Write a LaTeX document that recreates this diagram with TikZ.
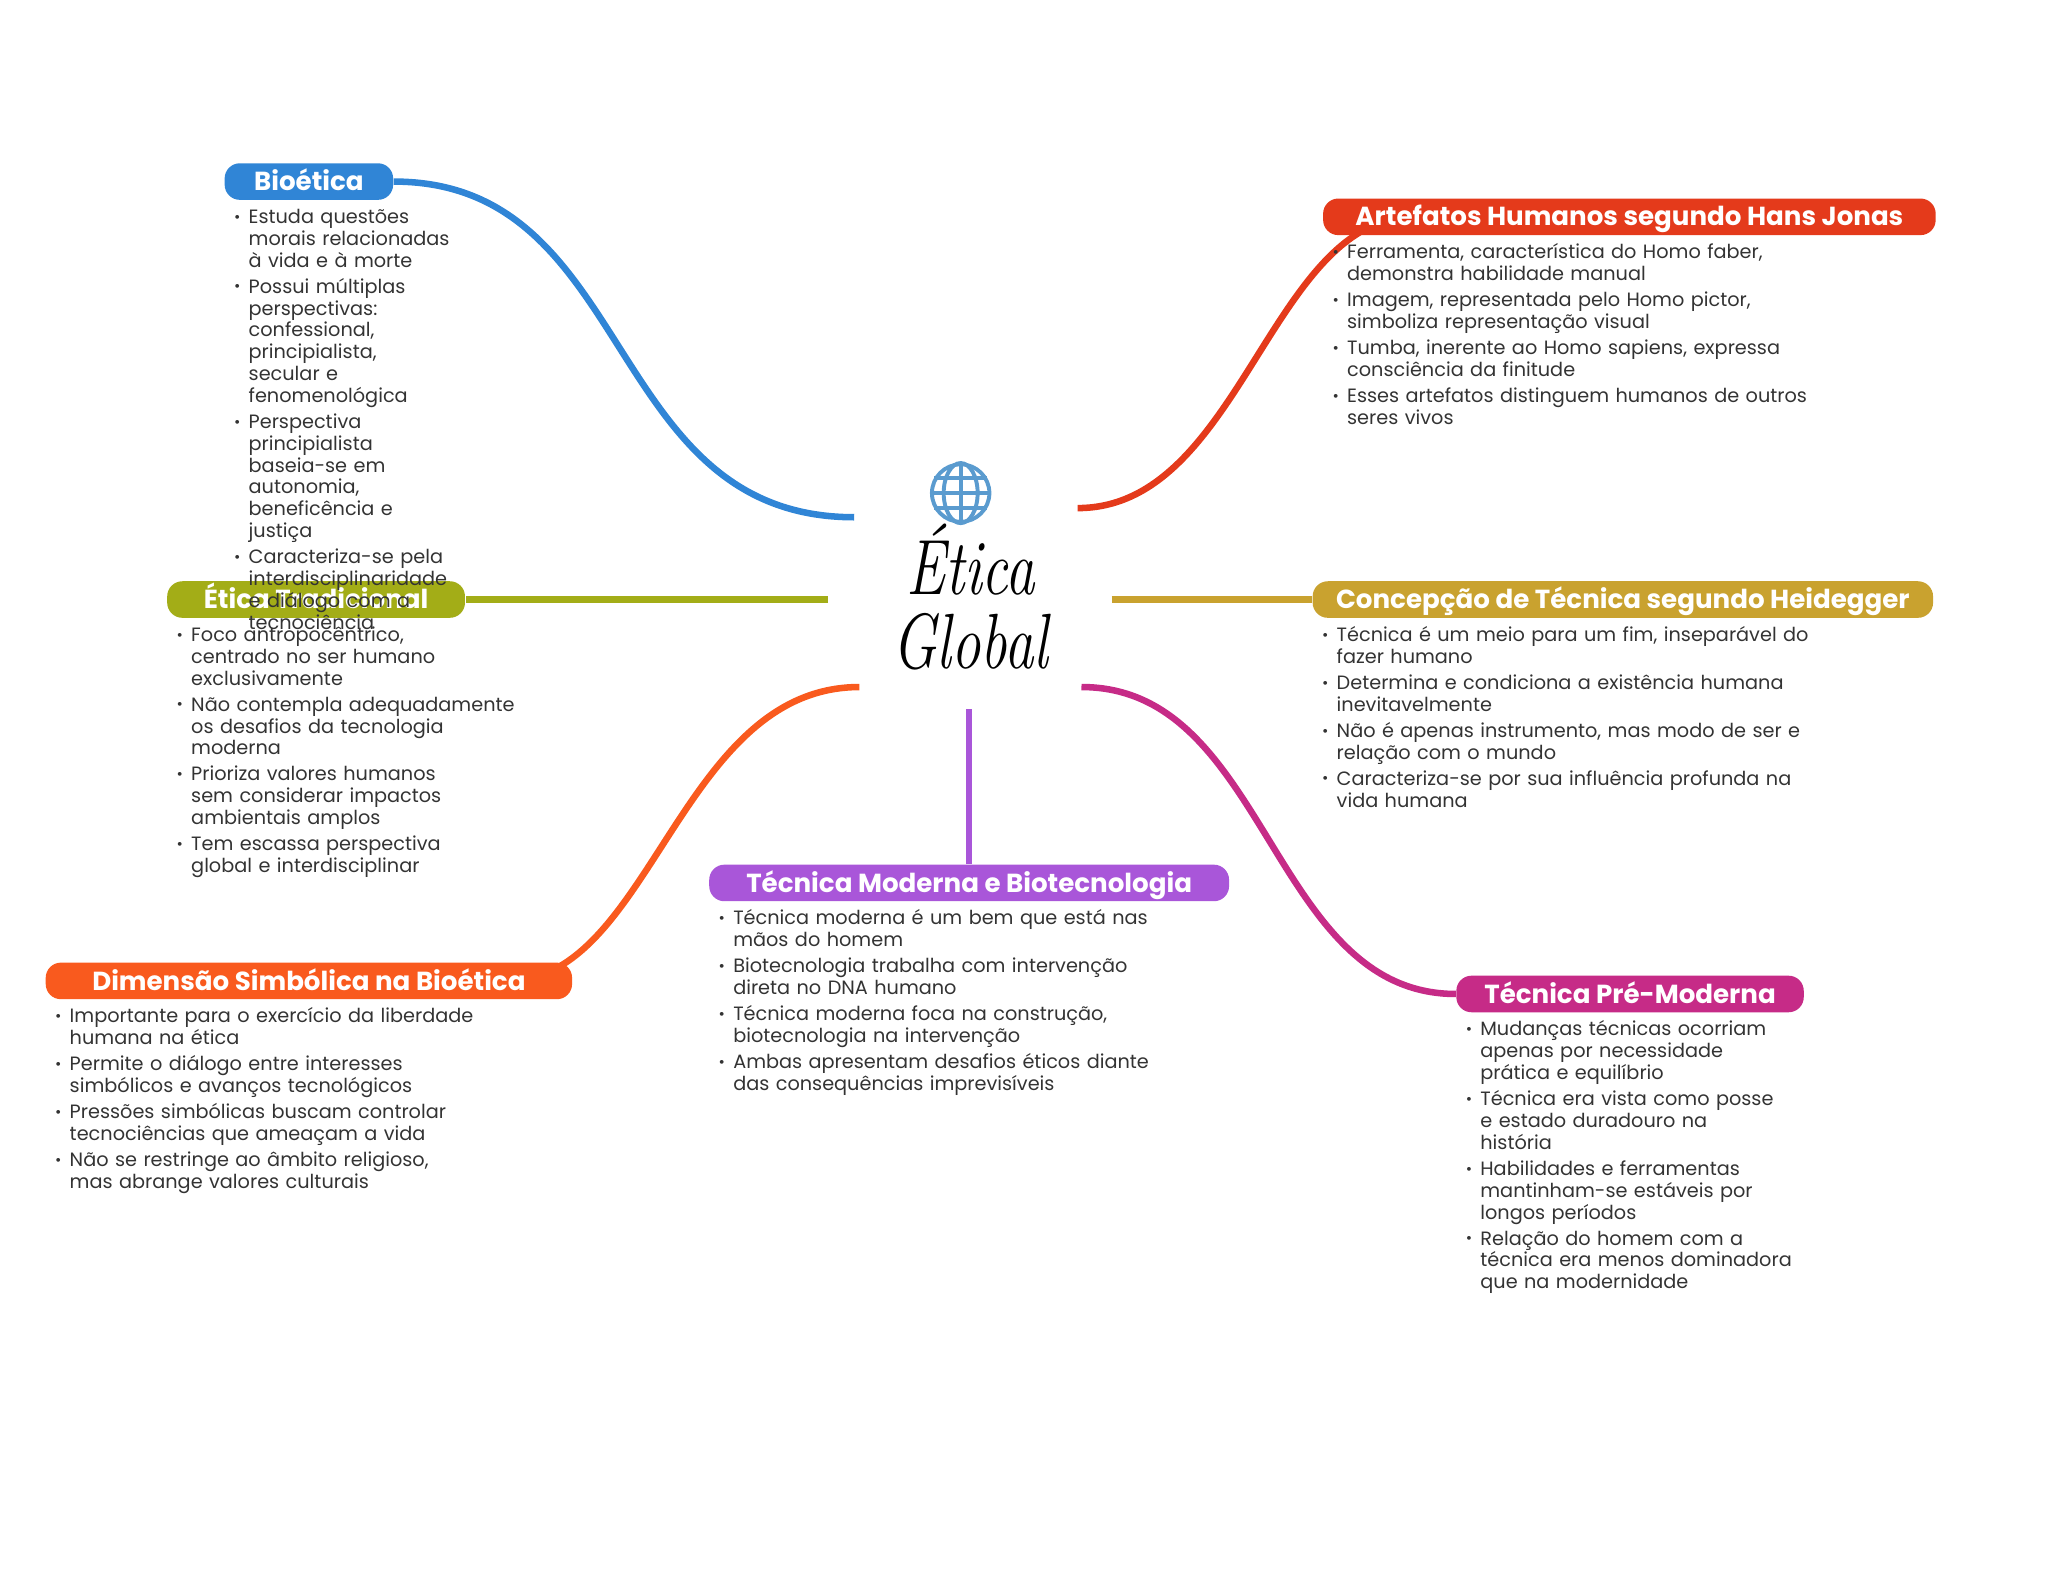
\documentclass[tikz,border=0pt]{standalone}
\usepackage{xcolor}
\usepackage{fontspec}
\setmainfont{Poppins}
\newfontfamily\hubfont{Latin Modern Roman}
\usetikzlibrary{positioning, calc, backgrounds}

\definecolor{bioBlue}{HTML}{3085D6}
\definecolor{artRed}{HTML}{E43A1B}
\definecolor{traOlive}{HTML}{A3AD17}
\definecolor{conGold}{HTML}{C9A22F}
\definecolor{dimOrange}{HTML}{F95A1E}
\definecolor{modPurple}{HTML}{A956D9}
\definecolor{preMagenta}{HTML}{C62B87}
\definecolor{globeBlue}{HTML}{5A9BCF}
\definecolor{noteGrey}{HTML}{333333}

\newcommand{\notelabel}[1]{\makebox[6.5pt][l]{\hspace{0.9pt}#1}}
\newenvironment{notelist}{\lineskiplimit=-20pt\begin{list}{\raisebox{0.5pt}{\scalebox{0.8}{\textbullet}}}{%
    \setlength{\leftmargin}{6.5pt}\setlength{\labelwidth}{6.5pt}\setlength{\labelsep}{0pt}%
    \setlength{\itemsep}{1.65pt}\setlength{\parsep}{0pt}\setlength{\topsep}{0pt}\setlength{\partopsep}{0pt}%
    \setlength{\itemindent}{0pt}\let\makelabel\notelabel}}{\end{list}}

\begin{document}
\begin{tikzpicture}[
    x=0.5pt, y=-0.5pt,
    topic/.style={
        rectangle, rounded corners=5.8pt, text=white, inner sep=0pt,
        minimum height=14pt, text height=9pt, text depth=2pt,
        font=\fontsize{10}{12}\selectfont\bfseries
    },
    notes/.style={
        inner sep=0pt, text=noteGrey, text width=190pt,
        font=\fontsize{7.38}{8.35}\selectfont
    },
    branch/.style={line width=2.5pt},
    globeline/.style={draw=globeBlue, line width=1.5pt},
    hubtext/.style={align=center, font=\fontsize{30}{28.5}\selectfont\hubfont\itshape, text=black, inner sep=0pt}
]
    \useasboundingbox (0,0) rectangle (1568,1201.2);

    \node[hubtext] (hub) at (743,457) {\scalebox{0.75}[1]{Ética}\\\scalebox{0.75}[1]{Global}};

    \coordinate (bioStart) at (654,396);
    \coordinate (artStart) at (825,389);
    \coordinate (traStart) at (634,459);
    \coordinate (conStart) at (851,459);
    \coordinate (dimStart) at (658,526);
    \coordinate (modStart) at (742,543);
    \coordinate (preStart) at (828,526);

    \node[topic, fill=bioBlue, minimum width=64.5pt] (bio) at (236.5,139) {Bioética};
    \node[topic, fill=artRed, minimum width=234.5pt] (art) at (1247.5,166) {Artefatos Humanos segundo Hans Jonas};
    \node[topic, fill=traOlive, minimum width=114pt] (tra) at (242,459) {Ética Tradicional};
    \node[topic, fill=conGold, minimum width=237.5pt] (con) at (1242.5,459) {Concepção de Técnica segundo Heidegger};
    \node[topic, fill=dimOrange, minimum width=201.5pt] (dim) at (236.5,751) {Dimensão Simbólica na Bioética};
    \node[topic, fill=modPurple, minimum width=199pt] (mod) at (742,676) {Técnica Moderna e Biotecnologia};
    \node[topic, fill=preMagenta, minimum width=133pt] (pre) at (1248,761) {Técnica Pré-Moderna};

    \begin{scope}[on background layer]
    \draw[branch, bioBlue] (bioStart) .. controls +(-193,0) and +(186,0) .. (bio.east);
    \draw[branch, artRed] (artStart) .. controls +(125,0) and +(-110,0) .. ($(art.west)+(70,0)$);
    \draw[branch, traOlive] (traStart) -- (tra.east);
    \draw[branch, conGold] (conStart) -- (con.west);
    \draw[branch, dimOrange] (dimStart) .. controls +(-138,0) and +(110,0) .. ($(dim.east)+(-50,0)$);
    \draw[branch, modPurple] (modStart) -- (mod.north);
    \draw[branch, preMagenta] (preStart) .. controls +(143,0) and +(-142,0) .. (pre.west);
    \end{scope}

    \node[circle, globeline, minimum size=22pt, inner sep=0pt] (globe) at (735.5,377.5) {};
    \draw[globeline] (globe.north) -- (globe.south);
    \draw[globeline] (globe.west) -- (globe.east);
    \draw[globeline] (globe.center) ellipse (13 and 23);
    \draw[globeline] (globe.150) -- (globe.30);
    \draw[globeline] (globe.210) -- (globe.330);

    \node[notes, below right=0.3pt and 2.7pt of bio.south west] (bioNotes) {\begin{notelist}
        \item Estuda questões\\morais relacionadas\\à vida e à morte
        \item Possui múltiplas\\perspectivas:\\confessional,\\principialista,\\secular e\\fenomenológica
        \item Perspectiva\\principialista\\baseia-se em\\autonomia,\\beneficência e\\justiça
        \item Caracteriza-se pela\\interdisciplinaridade\\e diálogo com a\\tecnociência
    \end{notelist}};
    \node[notes, below right=0.3pt and 2.7pt of art.south west] (artNotes) {\begin{notelist}
        \item Ferramenta, característica do Homo faber,\\demonstra habilidade manual
        \item Imagem, representada pelo Homo pictor,\\simboliza representação visual
        \item Tumba, inerente ao Homo sapiens, expressa\\consciência da finitude
        \item Esses artefatos distinguem humanos de outros\\seres vivos
    \end{notelist}};
    \node[notes, below right=0.3pt and 2.7pt of tra.south west] (traNotes) {\begin{notelist}
        \item Foco antropocêntrico,\\centrado no ser humano\\exclusivamente
        \item Não contempla adequadamente\\os desafios da tecnologia\\moderna
        \item Prioriza valores humanos\\sem considerar impactos\\ambientais amplos
        \item Tem escassa perspectiva\\global e interdisciplinar
    \end{notelist}};
    \node[notes, below right=0.3pt and 2.7pt of con.south west] (conNotes) {\begin{notelist}
        \item Técnica é um meio para um fim, inseparável do\\fazer humano
        \item Determina e condiciona a existência humana\\inevitavelmente
        \item Não é apenas instrumento, mas modo de ser e\\relação com o mundo
        \item Caracteriza-se por sua influência profunda na\\vida humana
    \end{notelist}};
    \node[notes, below right=0.3pt and 2.7pt of dim.south west] (dimNotes) {\begin{notelist}
        \item Importante para o exercício da liberdade\\humana na ética
        \item Permite o diálogo entre interesses\\simbólicos e avanços tecnológicos
        \item Pressões simbólicas buscam controlar\\tecnociências que ameaçam a vida
        \item Não se restringe ao âmbito religioso,\\mas abrange valores culturais
    \end{notelist}};
    \node[notes, below right=0.3pt and 2.7pt of mod.south west] (modNotes) {\begin{notelist}
        \item Técnica moderna é um bem que está nas\\mãos do homem
        \item Biotecnologia trabalha com intervenção\\direta no DNA humano
        \item Técnica moderna foca na construção,\\biotecnologia na intervenção
        \item Ambas apresentam desafios éticos diante\\das consequências imprevisíveis
    \end{notelist}};
    \node[notes, below right=0.3pt and 2.7pt of pre.south west] (preNotes) {\begin{notelist}
        \item Mudanças técnicas ocorriam\\apenas por necessidade\\prática e equilíbrio
        \item Técnica era vista como posse\\e estado duradouro na\\história
        \item Habilidades e ferramentas\\mantinham-se estáveis por\\longos períodos
        \item Relação do homem com a\\técnica era menos dominadora\\que na modernidade
    \end{notelist}};
\end{tikzpicture}
\end{document}
